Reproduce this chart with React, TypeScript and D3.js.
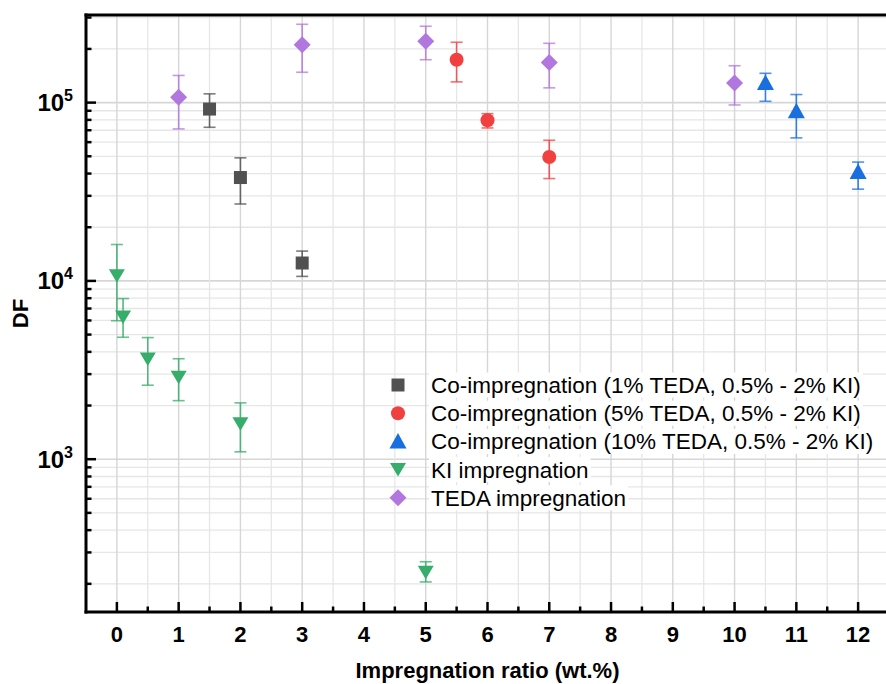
import { useEffect, useRef } from "react";
import * as d3 from "d3";

// series values: x (wt.%), DF, lower / upper error bound
const coImp1X = [1.5, 2, 3];
const coImp1Y = [92000, 38000, 12600];
const coImp1Lo = [72700, 27000, 10600];
const coImp1Hi = [112000, 49000, 14700];

const coImp5X = [5.5, 6, 7];
const coImp5Y = [174000, 79600, 49500];
const coImp5Lo = [130700, 72100, 37500];
const coImp5Hi = [218000, 86700, 61500];

const coImp10X = [10.5, 11, 12];
const coImp10Y = [129000, 89400, 40800];
const coImp10Lo = [101700, 63400, 32700];
const coImp10Hi = [146000, 111000, 46400];

const kiX = [0, 0.1, 0.5, 1, 2, 5];
const kiY = [10700, 6280, 3650, 2880, 1580, 232];
const kiLo = [5980, 4830, 2600, 2130, 1100, 205];
const kiHi = [16000, 7960, 4810, 3660, 2070, 266];

const tedaX = [1, 3, 5, 7, 10];
const tedaY = [107000, 211000, 221000, 168000, 129000];
const tedaLo = [71200, 148000, 174000, 121000, 97000];
const tedaHi = [142000, 275000, 268000, 215000, 161000];

const xTickValues = [0, 1, 2, 3, 4, 5, 6, 7, 8, 9, 10, 11, 12];
const yDecades = [3, 4, 5];

type Shape = "square" | "circle" | "up" | "down" | "diamond";

const SERIES = [
  { label: "Co-impregnation (1% TEDA, 0.5% - 2% KI)", color: "#515151", shape: "square" as Shape, x: coImp1X, y: coImp1Y, lo: coImp1Lo, hi: coImp1Hi },
  { label: "Co-impregnation (5% TEDA, 0.5% - 2% KI)", color: "#F14040", shape: "circle" as Shape, x: coImp5X, y: coImp5Y, lo: coImp5Lo, hi: coImp5Hi },
  { label: "Co-impregnation (10% TEDA, 0.5% - 2% KI)", color: "#1A6FDF", shape: "up" as Shape, x: coImp10X, y: coImp10Y, lo: coImp10Lo, hi: coImp10Hi },
  { label: "KI impregnation", color: "#37AD6B", shape: "down" as Shape, x: kiX, y: kiY, lo: kiLo, hi: kiHi },
  { label: "TEDA impregnation", color: "#B177DE", shape: "diamond" as Shape, x: tedaX, y: tedaY, lo: tedaLo, hi: tedaHi },
];

function markerPath(shape: Shape): string {
  switch (shape) {
    case "square":
      return "M-6.5,-6.5H6.5V6.5H-6.5Z";
    case "circle":
      return d3.symbol(d3.symbolCircle, Math.PI * 7 * 7)() ?? "";
    case "up":
      return "M0,-8.5L8.5,7L-8.5,7Z";
    case "down":
      return "M0,7L8,-6.5L-8,-6.5Z";
    case "diamond":
      return "M0,-8.5L8.5,0L0,8.5L-8.5,0Z";
  }
}

const FONT = "Arial, 'Liberation Sans', Helvetica, sans-serif";

export default function App() {
  const svgRef = useRef<SVGSVGElement | null>(null);

  useEffect(() => {
    document.body.style.margin = "0";
    const svgElement = svgRef.current;
    if (!svgElement) return;

    const width = 886;
    const height = 684;
    const left = 86;
    const right = 889;
    const top = 15;
    const bottom = 612;

    const x = d3.scaleLinear().domain([-0.5, 12.5]).range([left, right]);
    const y = d3.scaleLog().domain([139, 310000]).range([bottom, top]);

    const svg = d3.select(svgElement);
    svg.selectAll("*").remove();
    svg.attr("viewBox", `0 0 ${width} ${height}`);

    svg.append("defs")
      .append("clipPath")
      .attr("id", "plot-clip")
      .append("rect")
      .attr("x", left)
      .attr("y", top)
      .attr("width", right - left)
      .attr("height", bottom - top);

    const grid = svg.append("g").attr("clip-path", "url(#plot-clip)");

    // minor + major horizontal grid
    const minorY: number[] = [];
    const majorY: number[] = [];
    for (let e = 2; e <= 5; e++) {
      for (let k = 1; k <= 9; k++) {
        const v = k * Math.pow(10, e);
        if (v < 139 || v > 310000) continue;
        (k === 1 ? majorY : minorY).push(v);
      }
    }
    grid.selectAll("line.hminor").data(minorY).join("line")
      .attr("x1", left).attr("x2", right)
      .attr("y1", (d) => y(d)).attr("y2", (d) => y(d))
      .attr("stroke", "#e6e6e6").attr("stroke-width", 1.3);
    grid.selectAll("line.hmajor").data(majorY).join("line")
      .attr("x1", left).attr("x2", right)
      .attr("y1", (d) => y(d)).attr("y2", (d) => y(d))
      .attr("stroke", "#d6d6d6").attr("stroke-width", 1.6);

    const halfTicks = xTickValues.map((v) => v + 0.5).slice(0, -1);
    grid.selectAll("line.vminor").data(halfTicks).join("line")
      .attr("x1", (d) => x(d)).attr("x2", (d) => x(d))
      .attr("y1", top).attr("y2", bottom)
      .attr("stroke", "#e6e6e6").attr("stroke-width", 1.3);
    grid.selectAll("line.vmajor").data(xTickValues).join("line")
      .attr("x1", (d) => x(d)).attr("x2", (d) => x(d))
      .attr("y1", top).attr("y2", bottom)
      .attr("stroke", "#d6d6d6").attr("stroke-width", 1.4);

    // error bars then markers
    const plot = svg.append("g").attr("clip-path", "url(#plot-clip)");
    SERIES.forEach((s) => {
      const idx = d3.range(s.x.length);
      const g = plot.append("g");
      g.selectAll("line.err").data(idx).join("line")
        .attr("x1", (i) => x(s.x[i])).attr("x2", (i) => x(s.x[i]))
        .attr("y1", (i) => y(s.lo[i])).attr("y2", (i) => y(s.hi[i]))
        .attr("stroke", s.color).attr("stroke-width", 1.6).attr("opacity", 0.85);
      [s.lo, s.hi].forEach((bound) => {
        g.selectAll(null).data(idx).join("line")
          .attr("x1", (i) => x(s.x[i]) - 6).attr("x2", (i) => x(s.x[i]) + 6)
          .attr("y1", (i) => y(bound[i])).attr("y2", (i) => y(bound[i]))
          .attr("stroke", s.color).attr("stroke-width", 1.6).attr("opacity", 0.75);
      });
    });
    SERIES.forEach((s) => {
      plot.append("g").selectAll("path").data(d3.range(s.x.length)).join("path")
        .attr("d", markerPath(s.shape))
        .attr("transform", (i) => `translate(${x(s.x[i])},${y(s.y[i])})`)
        .attr("fill", s.color);
    });

    // legend
    const legend = svg.append("g");
    SERIES.forEach((s, i) => {
      const cy = 385 + i * 28.2;
      const row = legend.append("g");
      const bg = row.append("rect").attr("fill", "white");
      const text = row.append("text")
        .attr("x", 431).attr("y", cy + 8)
        .attr("font-family", FONT).attr("font-size", 22.5)
        .attr("fill", "#000")
        .text(s.label);
      const w = (text.node() as SVGTextElement).getComputedTextLength();
      bg.attr("x", 429).attr("y", cy - 12.5).attr("width", w + 4).attr("height", 25);
      row.append("path")
        .attr("d", markerPath(s.shape))
        .attr("transform", `translate(398,${cy})`)
        .attr("fill", s.color);
    });

    // axes
    const axes = svg.append("g").attr("stroke", "#000");
    axes.selectAll("line.xt").data(xTickValues).join("line")
      .attr("x1", (d) => x(d)).attr("x2", (d) => x(d))
      .attr("y1", bottom).attr("y2", bottom - 10).attr("stroke-width", 2.5);
    axes.selectAll("line.xm").data(halfTicks).join("line")
      .attr("x1", (d) => x(d)).attr("x2", (d) => x(d))
      .attr("y1", bottom).attr("y2", bottom - 5.5).attr("stroke-width", 2.5);
    axes.selectAll("line.yt").data(majorY).join("line")
      .attr("x1", left).attr("x2", left + 10)
      .attr("y1", (d) => y(d)).attr("y2", (d) => y(d)).attr("stroke-width", 2.5);
    axes.selectAll("line.ym").data(minorY).join("line")
      .attr("x1", left).attr("x2", left + 5.5)
      .attr("y1", (d) => y(d)).attr("y2", (d) => y(d)).attr("stroke-width", 2.5);
    axes.append("line").attr("x1", left).attr("x2", left).attr("y1", top - 1.5).attr("y2", bottom + 1.5).attr("stroke-width", 3);
    axes.append("line").attr("x1", left - 1.5).attr("x2", width).attr("y1", bottom).attr("y2", bottom).attr("stroke-width", 3);
    axes.append("line").attr("x1", left - 1.5).attr("x2", width).attr("y1", top).attr("y2", top).attr("stroke-width", 3);

    const labels = svg.append("g").attr("font-family", FONT).attr("font-weight", "bold").attr("fill", "#000");
    labels.selectAll("text.xl").data(xTickValues).join("text")
      .attr("x", (d) => x(d)).attr("y", 642)
      .attr("text-anchor", "middle").attr("font-size", 22)
      .text((d) => `${d}`);

    yDecades.forEach((e) => {
      const t = labels.append("text")
        .attr("x", 73).attr("y", y(Math.pow(10, e)) + 8.5)
        .attr("text-anchor", "end").attr("font-size", 24);
      t.append("tspan").text("10");
      t.append("tspan").attr("font-size", 16).attr("dy", -10).text(`${e}`);
    });

    labels.append("text")
      .attr("x", (left + right) / 2).attr("y", 678)
      .attr("text-anchor", "middle").attr("font-size", 22)
      .text("Impregnation ratio (wt.%)");
    labels.append("text")
      .attr("transform", `translate(28,${(top + bottom) / 2}) rotate(-90)`)
      .attr("text-anchor", "middle").attr("font-size", 22)
      .text("DF");
  }, []);

  return <svg ref={svgRef} width={886} height={684} style={{ display: "block" }} />;
}
